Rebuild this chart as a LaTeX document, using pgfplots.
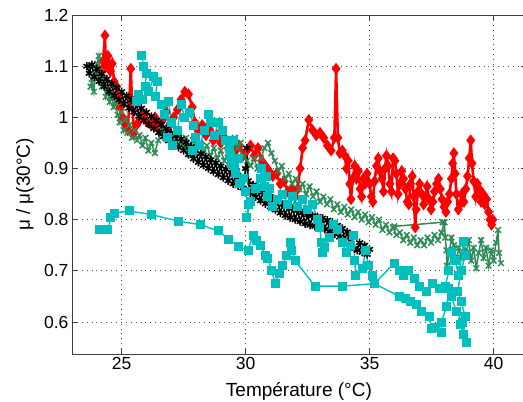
\documentclass[border=0pt]{standalone}
\usepackage{fontspec}
\setmainfont{Liberation Sans}
\usepackage{pgfplots}
\pgfplotsset{compat=1.18}
\definecolor{mred}{RGB}{255,0,0}
\definecolor{mgreen}{RGB}{46,139,87}
\definecolor{mcyan}{RGB}{0,191,191}

\begin{document}
\begin{tikzpicture}
\begin{axis}[
  scale only axis,
  width=453.8pt, height=339pt,
  xmin=23, xmax=41.3, ymin=0.5375, ymax=1.2,
  xtick={25,30,35,40},
  ytick={0.6,0.7,0.8,0.9,1,1.1,1.2},
  grid=major,
  major grid style={black!70, line width=0.8pt, dash pattern=on 0.9pt off 4pt},
  tick align=inside,
  major tick length=5pt,
  axis line style={black!75, line width=0.9pt},
  tick style={black!75, line width=0.9pt},
  tick label style={font=\fontsize{17.5}{20}\selectfont},
  /pgf/number format/assume math mode=true,
  label style={font=\fontsize{19}{22}\selectfont},
  xlabel={Température (°C)},
  ylabel={μ / μ(30°C)},
  xlabel style={at={(axis description cs:0.5,0)}, anchor=base, yshift=-42.8pt},
  ylabel style={at={(axis description cs:-0.1036,0.5)}, anchor=center},
]
% red: diamonds
\addplot[mred, line width=2.6pt, mark=diamond*, mark size=3.8pt, mark options={solid, fill=mred}] table {
24.15 1.090
24.25 1.110
24.33 1.160
24.36 1.100
24.45 1.120
24.55 1.090
24.62 1.105
24.70 1.070
24.80 1.060
24.85 1.040
24.95 1.020
25.05 1.000
25.15 0.985
25.25 0.975
25.32 1.040
25.37 1.095
25.42 1.030
25.50 0.970
25.60 0.985
25.75 0.995
25.90 1.005
26.05 0.990
26.20 0.985
26.35 1.000
26.50 0.980
26.65 0.995
26.80 1.010
26.95 0.985
27.10 1.000
27.25 1.015
27.40 1.035
27.55 1.050
27.70 1.045
27.85 1.020
27.95 0.990
28.10 0.975
28.25 0.985
28.40 0.965
28.55 0.975
28.70 0.955
28.85 0.965
29.00 0.950
29.15 0.960
29.30 0.940
29.45 0.950
29.60 0.935
29.75 0.945
29.90 0.925
30.05 0.935
30.20 0.945
30.35 0.925
30.50 0.940
30.65 0.915
30.80 0.905
30.95 0.895
31.10 0.885
31.25 0.890
31.40 0.870
31.55 0.875
31.70 0.855
31.85 0.860
32.00 0.845
32.10 0.860
32.20 0.900
32.30 0.940
32.40 0.955
32.55 0.995
32.70 0.975
32.85 0.965
33.00 0.970
33.15 0.960
33.30 0.945
33.45 0.935
33.58 0.960
33.65 1.095
33.72 0.960
33.80 0.930
33.90 0.935
34.00 0.925
34.07 0.900
34.14 0.915
34.20 0.870
34.25 0.840
34.32 0.880
34.40 0.905
34.47 0.880
34.55 0.895
34.62 0.860
34.68 0.845
34.75 0.880
34.82 0.870
34.90 0.890
35.00 0.870
35.07 0.845
35.13 0.835
35.20 0.875
35.28 0.905
35.35 0.920
35.42 0.895
35.50 0.880
35.56 0.855
35.62 0.900
35.68 0.925
35.75 0.905
35.82 0.870
35.88 0.855
35.95 0.920
36.02 0.915
36.08 0.890
36.15 0.850
36.22 0.870
36.30 0.895
36.37 0.880
36.45 0.860
36.52 0.835
36.58 0.830
36.65 0.870
36.72 0.885
36.78 0.845
36.84 0.785
36.88 0.820
36.95 0.855
37.02 0.870
37.10 0.850
37.18 0.830
37.25 0.845
37.32 0.865
37.40 0.840
37.48 0.820
37.55 0.835
37.62 0.855
37.70 0.870
37.78 0.880
37.85 0.860
37.92 0.840
38.00 0.825
38.08 0.815
38.15 0.835
38.22 0.850
38.30 0.880
38.35 0.910
38.40 0.930
38.45 0.890
38.50 0.850
38.58 0.820
38.65 0.830
38.72 0.850
38.80 0.835
38.88 0.860
38.95 0.885
39.02 0.920
39.08 0.955
39.13 0.910
39.20 0.875
39.28 0.845
39.35 0.870
39.42 0.860
39.50 0.835
39.58 0.850
39.65 0.830
39.72 0.840
39.80 0.815
39.86 0.800
39.92 0.790
39.97 0.800
};
% green: crosses
\addplot[mgreen, line width=1.5pt, mark=x, mark size=4pt] table {
23.75 1.060
23.80 1.075
23.88 1.050
23.95 1.085
24.02 1.105
24.08 1.120
24.12 1.090
24.20 1.060
24.28 1.075
24.36 1.040
24.44 1.055
24.52 1.030
24.60 1.045
24.68 1.020
24.76 1.030
24.84 1.005
24.92 0.990
25.00 1.010
25.08 0.975
25.16 0.995
25.24 0.970
25.32 0.985
25.42 0.960
25.52 0.975
25.62 0.955
25.72 0.965
25.84 0.945
25.96 0.960
26.08 0.935
26.20 0.950
26.34 0.930
26.48 0.955
26.62 0.975
26.76 0.960
26.90 0.985
27.04 0.965
27.18 0.950
27.32 0.970
27.46 0.945
27.60 0.960
27.74 0.940
27.88 0.955
28.02 0.935
28.16 0.950
28.30 0.930
28.44 0.945
28.58 0.925
28.72 0.940
28.86 0.920
29.00 0.935
29.14 0.915
29.28 0.930
29.42 0.945
29.56 0.960
29.68 0.940
29.80 0.950
29.92 0.925
30.06 0.915
30.20 0.905
30.34 0.920
30.48 0.900
30.62 0.920
30.76 0.940
30.90 0.950
31.04 0.930
31.18 0.915
31.32 0.895
31.46 0.905
31.60 0.880
31.74 0.890
31.88 0.870
32.02 0.880
32.16 0.860
32.30 0.870
32.44 0.850
32.58 0.865
32.72 0.845
32.86 0.855
33.00 0.835
33.14 0.845
33.28 0.830
33.42 0.840
33.56 0.820
33.70 0.830
33.84 0.815
33.98 0.825
34.12 0.810
34.26 0.820
34.40 0.805
34.54 0.815
34.68 0.800
34.82 0.810
34.96 0.795
35.10 0.805
35.24 0.790
35.38 0.800
35.52 0.780
35.66 0.790
35.80 0.775
35.94 0.785
36.08 0.770
36.22 0.775
36.36 0.760
36.50 0.770
36.64 0.755
36.78 0.765
36.92 0.750
37.06 0.760
37.20 0.750
37.34 0.765
37.48 0.755
37.62 0.770
37.76 0.760
37.90 0.775
38.02 0.795
38.05 0.765
38.10 0.740
38.12 0.710
38.20 0.730
38.30 0.765
38.40 0.750
38.50 0.720
38.60 0.745
38.70 0.725
38.80 0.755
38.90 0.735
39.00 0.760
39.10 0.720
39.20 0.745
39.30 0.705
39.40 0.735
39.50 0.760
39.60 0.725
39.70 0.745
39.80 0.710
39.90 0.740
40.00 0.720
40.10 0.755
40.18 0.780
40.22 0.735
40.30 0.715
};
\addplot[mgreen, line width=1.5pt, mark=x, mark size=4pt] table {
36.00 0.787
37.95 0.795
};
% black: asterisks
\addplot[black, line width=1.6pt, mark=asterisk, mark size=4pt] table {
23.6 1.100
23.7 1.086
23.8 1.103
23.9 1.079
24.0 1.095
24.1 1.070
24.2 1.085
24.3 1.060
24.4 1.075
24.5 1.050
24.6 1.066
24.7 1.042
24.8 1.058
24.9 1.034
25.0 1.050
25.1 1.026
25.2 1.042
25.3 1.018
25.4 1.034
25.5 1.010
25.6 1.026
25.7 1.002
25.8 1.018
25.9 0.994
26.0 1.010
26.1 0.986
26.2 1.002
26.3 0.978
26.4 0.994
26.5 0.970
26.6 0.986
26.7 0.962
26.8 0.978
26.9 0.954
27.0 0.970
27.1 0.947
27.2 0.964
27.3 0.941
27.4 0.958
27.5 0.935
27.6 0.951
27.7 0.927
27.8 0.943
27.9 0.919
28.0 0.935
28.1 0.912
28.2 0.929
28.3 0.906
28.4 0.923
28.5 0.900
28.6 0.917
28.7 0.894
28.8 0.911
28.9 0.888
29.0 0.905
29.1 0.882
29.2 0.899
29.3 0.876
29.4 0.893
29.5 0.870
29.6 0.888
29.7 0.866
29.8 0.884
29.9 0.862
30.0 0.900
30.05 0.940
30.1 0.876
30.2 0.852
30.3 0.868
30.4 0.844
30.5 0.860
30.6 0.837
30.7 0.854
30.8 0.831
30.9 0.848
31.0 0.825
31.1 0.842
31.2 0.819
31.3 0.836
31.4 0.813
31.5 0.830
31.6 0.808
31.7 0.826
31.8 0.804
31.9 0.822
32.0 0.800
32.1 0.818
32.2 0.796
32.3 0.814
32.4 0.792
32.5 0.810
32.6 0.789
32.7 0.808
32.8 0.787
32.9 0.806
33.0 0.785
33.1 0.803
33.2 0.781
33.3 0.799
33.4 0.777
33.5 0.795
33.6 0.772
33.7 0.789
33.8 0.766
33.9 0.783
34.0 0.760
34.1 0.776
34.2 0.752
34.3 0.768
34.4 0.744
34.5 0.740
34.6 0.755
34.7 0.736
34.8 0.750
34.9 0.732
35.0 0.742
};
% cyan: squares
\addplot[mcyan, line width=1.4pt, mark=square*, mark size=3.8pt, mark options={solid, fill=mcyan}] table {
25.80 1.120
25.90 1.100
26.00 1.085
25.95 1.060
25.70 1.045
25.60 1.030
25.85 1.035
26.10 1.050
26.30 1.080
26.45 1.070
26.35 1.040
26.60 1.025
26.75 1.005
26.90 1.030
27.00 0.990
26.85 0.960
27.05 0.945
27.25 0.975
27.40 1.025
27.55 1.000
27.75 1.010
27.90 0.985
28.00 0.960
27.85 0.935
28.15 0.945
28.35 0.975
28.50 1.005
28.60 0.990
28.75 0.965
28.90 0.990
29.05 0.975
29.20 0.955
29.35 0.940
29.50 0.955
29.40 0.925
29.55 0.905
29.70 0.920
29.45 0.910
29.60 0.890
29.75 0.870
29.90 0.880
30.00 0.855
30.10 0.830
30.05 0.805
30.20 0.835
30.40 0.860
30.60 0.880
30.65 0.900
30.85 0.885
30.75 0.865
30.95 0.860
30.90 0.845
31.10 0.825
31.30 0.840
31.50 0.850
31.70 0.830
31.90 0.845
32.10 0.825
32.30 0.840
32.50 0.820
32.70 0.830
32.90 0.800
33.00 0.785
33.05 0.755
33.20 0.745
33.10 0.735
33.40 0.765
33.55 0.790
33.70 0.780
33.90 0.755
34.05 0.735
34.25 0.750
34.35 0.770
34.40 0.720
34.45 0.690
34.70 0.705
34.85 0.740
34.95 0.710
35.10 0.690
35.20 0.675
36.00 0.715
36.20 0.700
36.35 0.690
36.55 0.700
36.80 0.685
37.00 0.670
37.30 0.660
37.55 0.675
37.80 0.665
38.05 0.670
38.20 0.700
38.30 0.735
38.45 0.720
38.60 0.690
38.80 0.757
38.85 0.730
38.70 0.700
38.55 0.660
38.70 0.640
38.85 0.610
38.65 0.595
38.80 0.575
38.90 0.560
38.75 0.600
38.50 0.620
38.30 0.650
38.20 0.665
38.10 0.630
37.90 0.600
37.90 0.580
37.65 0.590
37.50 0.587
37.40 0.610
37.10 0.620
36.90 0.635
36.65 0.640
36.45 0.645
36.20 0.650
35.20 0.675
33.90 0.670
32.80 0.670
32.00 0.720
31.85 0.740
31.80 0.755
31.65 0.730
31.50 0.710
31.35 0.695
31.20 0.675
31.05 0.700
30.90 0.725
30.80 0.730
30.60 0.750
30.45 0.760
30.30 0.770
30.10 0.740
29.70 0.748
29.33 0.762
28.90 0.778
28.20 0.790
27.30 0.797
26.20 0.810
25.30 0.817
24.73 0.813
24.57 0.805
24.45 0.780
24.10 0.780
};
\end{axis}
\pgfresetboundingbox
\path[use as bounding box] ([xshift=-72pt,yshift=-47.3pt]current axis.south west) rectangle ([xshift=451pt,yshift=15pt]current axis.north west);
\end{tikzpicture}
\end{document}
